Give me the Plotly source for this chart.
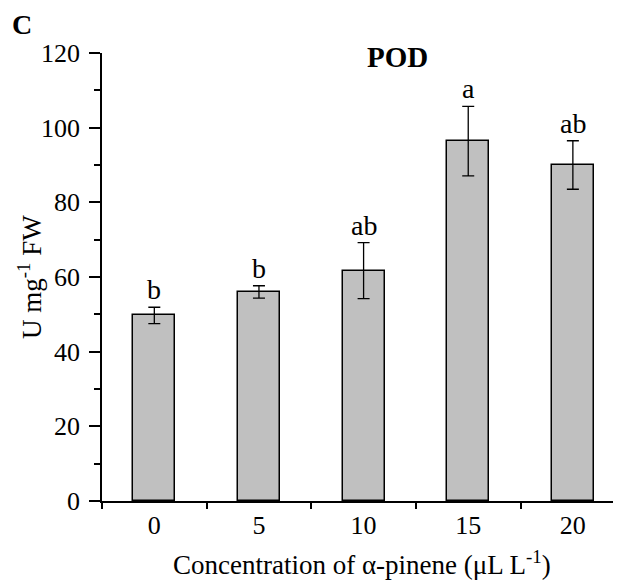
import plotly.graph_objects as go

categories = [0, 5, 10, 15, 20]
means = [49.7, 56.0, 61.7, 96.4, 90.0]
errors = [2.2, 1.65, 7.5, 9.3, 6.5]
letters = ["b", "b", "ab", "a", "ab"]
tick_labels = ["0", "5", "10", "15", "20"]

FONT = "Liberation Serif"

fig = go.Figure()
fig.add_trace(go.Bar(
    x=categories, y=means, width=2,
    marker=dict(color="#c0c0c0", line=dict(color="black", width=1.5)),
    error_y=dict(type="data", array=errors, visible=True, color="black",
                 thickness=1.3, width=6),
    showlegend=False,
))

annotations = []
for c, m, e, l in zip(categories, means, errors, letters):
    annotations.append(dict(x=c, y=m + e, xref="x", yref="y", text=l,
                            showarrow=False, yanchor="bottom", yshift=0,
                            font=dict(family=FONT, size=28, color="black")))

# page body has an 8px default margin; the figure is shifted to compensate
OFF = 8
W, H = 621 - OFF, 584 - OFF
L, R, T = 102 - OFF, 0, 53 - OFF
B = H - (501 - OFF)
pw, ph = W - L - R, H - T - B

def px(xp):
    return (xp - OFF - L) / pw

def py(yp):
    return (H - B - (yp - OFF)) / ph

annotations += [
    dict(x=px(397), y=py(57), xref="paper", yref="paper", text="<b>POD</b>",
         showarrow=False, xanchor="center", yanchor="middle",
         font=dict(family=FONT, size=29, color="black")),
    dict(x=px(22), y=py(24), xref="paper", yref="paper", text="<b>C</b>",
         showarrow=False, xanchor="center", yanchor="middle",
         font=dict(family=FONT, size=28, color="black")),
    dict(x=px(30), y=py(277), xref="paper", yref="paper",
         text="U mg<sup>-1</sup> FW", textangle=-90,
         showarrow=False, xanchor="center", yanchor="middle",
         font=dict(family=FONT, size=27, color="black")),
    dict(x=px(362), y=py(563), xref="paper", yref="paper",
         text="Concentration of α-pinene (μL L<sup>-1</sup>)",
         showarrow=False, xanchor="center", yanchor="middle",
         font=dict(family=FONT, size=27, color="black")),
]

fig.update_layout(
    width=W, height=H,
    margin=dict(l=L, r=R, t=T, b=B, pad=0),
    paper_bgcolor="white", plot_bgcolor="white",
    font=dict(family=FONT, color="black"),
    annotations=annotations,
    bargap=0,
)

fig.update_xaxes(
    range=[-2.5, 22.3], tickvals=categories, ticktext=tick_labels,
    ticks="", showline=True, linecolor="black", linewidth=1.5,
    showgrid=False, zeroline=False,
    tickfont=dict(family=FONT, size=26, color="black"),
    ticklabelstandoff=0,
    minor=dict(tickvals=[-2.5, 2.5, 7.5, 12.5, 17.5, 22.5], ticks="outside",
               ticklen=6, tickwidth=1.5, tickcolor="black", showgrid=False),
)
fig.update_yaxes(
    range=[0, 120], tickvals=[0, 20, 40, 60, 80, 100, 120],
    ticks="outside", ticklen=11, tickwidth=1.5, tickcolor="black",
    showline=True, linecolor="black", linewidth=1.5,
    showgrid=False, zeroline=False,
    tickfont=dict(family=FONT, size=26, color="black"),
    ticklabelstandoff=4,
    minor=dict(tickvals=[10, 30, 50, 70, 90, 110], ticks="outside",
               ticklen=6, tickwidth=1.5, tickcolor="black", showgrid=False),
)

fig.write_html("out.html")
